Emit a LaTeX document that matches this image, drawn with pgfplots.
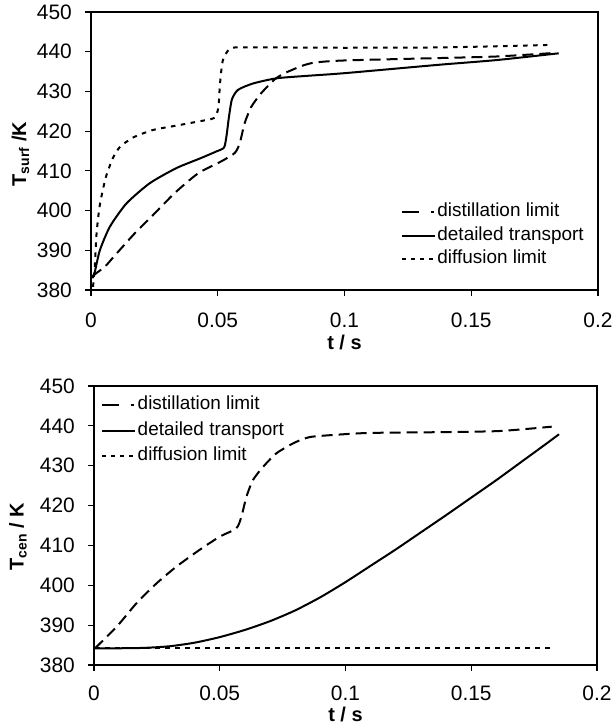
\documentclass[border=0pt]{standalone}
\usepackage{pgfplots}
\pgfplotsset{compat=1.18}
\usepackage{fontspec}
\setmainfont{Liberation Sans}
\begin{document}
\begin{tikzpicture}
\useasboundingbox (0bp,0bp) rectangle (612bp,-726bp);
\pgfplotsset{
  common/.style={
    scale only axis,
    xmin=0, xmax=0.2, ymin=380, ymax=450,
    xtick={0,0.05,0.1,0.15,0.2},
    xticklabels={0,0.05,0.1,0.15,0.2},
    ytick={380,390,400,410,420,430,440,450},
    tick pos=left,
    tick align=outside,
    major tick length=6bp,
    every tick/.style={black, line width=1.1bp},
    axis line style={line width=1.4bp},
    /pgf/number format/assume math mode=true,
    tick label style={font=\fontsize{21}{24}\selectfont, inner sep=0pt},
    yticklabel style={anchor=east, xshift=-13bp},
    label style={font=\fontsize{20}{24}\selectfont\bfseries},
    legend cell align=left,
    legend style={draw=none, fill=none, font=\fontsize{19}{22}\selectfont, inner sep=2bp,
      /tikz/every odd column/.append style={column sep=0bp}},
  },
  distil/.style={black, line width=2bp, dash pattern=on 11bp off 6bp,
    legend image code/.code={\draw[black,line width=2bp, dash pattern=on 17bp off 12bp on 3bp off 20bp] (0bp,0bp)--(33bp,0bp);}},
  detail/.style={black, line width=2bp,
    legend image code/.code={\draw[black,line width=2bp] (0bp,0bp)--(33bp,0bp);}},
  diffu/.style={black, line width=2bp, dash pattern=on 4.5bp off 5.5bp,
    legend image code/.code={\draw[black,line width=2bp, dash pattern=on 4bp off 5bp] (0bp,0bp)--(33bp,0bp);}},
}
% ---------------- top panel ----------------
\begin{axis}[common,
  at={(91bp,-290bp)}, anchor=south west,
  width=507bp, height=278bp,
  xticklabel style={anchor=north, yshift=-16.5bp},
  xlabel={t / s},
  ylabel={T\textsubscript{surf} /K},
  xlabel style={at={(axis description cs:0.5,-0.19)}, anchor=center},
  ylabel style={at={(axis description cs:-0.139,0.489)}, anchor=center},
  legend style={at={(axis description cs:0.607,0.33)}, anchor=north west,
    nodes={inner sep=1.5bp, text height=15bp, text depth=5.5bp}},
]
\addplot[distil, smooth, tension=0.4] coordinates {
(0.0005,383.5) (0.0055,385.9) (0.0090,388.4) (0.0173,394.3) (0.0239,398.5)
(0.0330,404.4) (0.0423,409.4) (0.0514,412.4) (0.0567,414.5) (0.0587,417.0)
(0.0606,422.0) (0.0633,426.2) (0.0672,429.6) (0.0724,433.0) (0.0764,434.6)
(0.0835,436.5) (0.0886,437.3) (0.1000,437.8) (0.1370,438.4) (0.1600,438.8)
(0.1830,439.7)};
\addlegendentry{distillation limit}
\addplot[detail, smooth, tension=0.4] coordinates {
(0.0005,383.0) (0.0013,384.0) (0.0035,390.0) (0.0075,396.0) (0.0140,401.8)
(0.0232,406.9) (0.0337,410.7) (0.0429,413.1) (0.0495,414.9) (0.0525,415.9)
(0.0535,419.0) (0.0544,423.5) (0.0556,428.0) (0.0580,430.4) (0.0639,432.0)
(0.0731,433.3) (0.0846,433.9) (0.1000,434.6) (0.1370,436.7) (0.1600,437.9)
(0.1845,439.6)};
\addlegendentry{detailed transport}
\addplot[diffu, smooth, tension=0.4] coordinates {
(0.0008,380.8) (0.0015,386.0) (0.0022,394.3) (0.0035,401.5) (0.0059,408.5)
(0.0087,413.3) (0.0114,416.0) (0.0166,418.4) (0.0245,420.3) (0.0337,421.4)
(0.0429,422.5) (0.0485,423.3) (0.0502,425.8) (0.0509,432.0) (0.0520,437.8)
(0.0547,440.7) (0.0600,441.1) (0.1000,441.0) (0.1400,441.1) (0.1800,441.7)};
\addlegendentry{diffusion limit}
\end{axis}
% ---------------- bottom panel ----------------
\begin{axis}[common,
  at={(94bp,-665bp)}, anchor=south west,
  width=503bp, height=279bp,
  xticklabel style={anchor=north, yshift=-14.5bp},
  xlabel={t / s},
  ylabel={T\textsubscript{cen} / K},
  xlabel style={at={(axis description cs:0.5,-0.176)}, anchor=center},
  ylabel style={at={(axis description cs:-0.151,0.46)}, anchor=center},
  legend style={at={(axis description cs:0.01,0.985)}, anchor=north west,
    nodes={inner sep=1.5bp, text height=16bp, text depth=6.5bp}},
]
\addplot[distil, smooth, tension=0.4] coordinates {
(0.0004,384.2) (0.0090,389.6) (0.0169,395.5) (0.0249,400.5) (0.0328,404.7)
(0.0420,408.9) (0.0500,412.2) (0.0566,414.3) (0.0586,417.2) (0.0606,422.2)
(0.0632,426.4) (0.0672,429.7) (0.0725,433.1) (0.0791,435.6) (0.0841,436.9)
(0.0884,437.4) (0.1080,438.2) (0.1345,438.4) (0.1610,438.7) (0.1820,439.8)};
\addlegendentry{distillation limit}
\addplot[detail, smooth, tension=0.4] coordinates {
(0.0004,384.2) (0.010,384.2) (0.020,384.3) (0.030,384.7) (0.040,385.6)
(0.050,387.0) (0.060,388.8) (0.070,391.0) (0.080,393.7) (0.090,397.0)
(0.100,400.8) (0.110,404.9) (0.120,409.0) (0.130,413.3) (0.140,417.6)
(0.150,422.0) (0.160,426.4) (0.170,431.0) (0.180,435.6) (0.1849,437.9)};
\addlegendentry{detailed transport}
\addplot[diffu] coordinates {
(0.0004,384.2) (0.1830,384.2)};
\addlegendentry{diffusion limit}
\end{axis}
\end{tikzpicture}
\end{document}
